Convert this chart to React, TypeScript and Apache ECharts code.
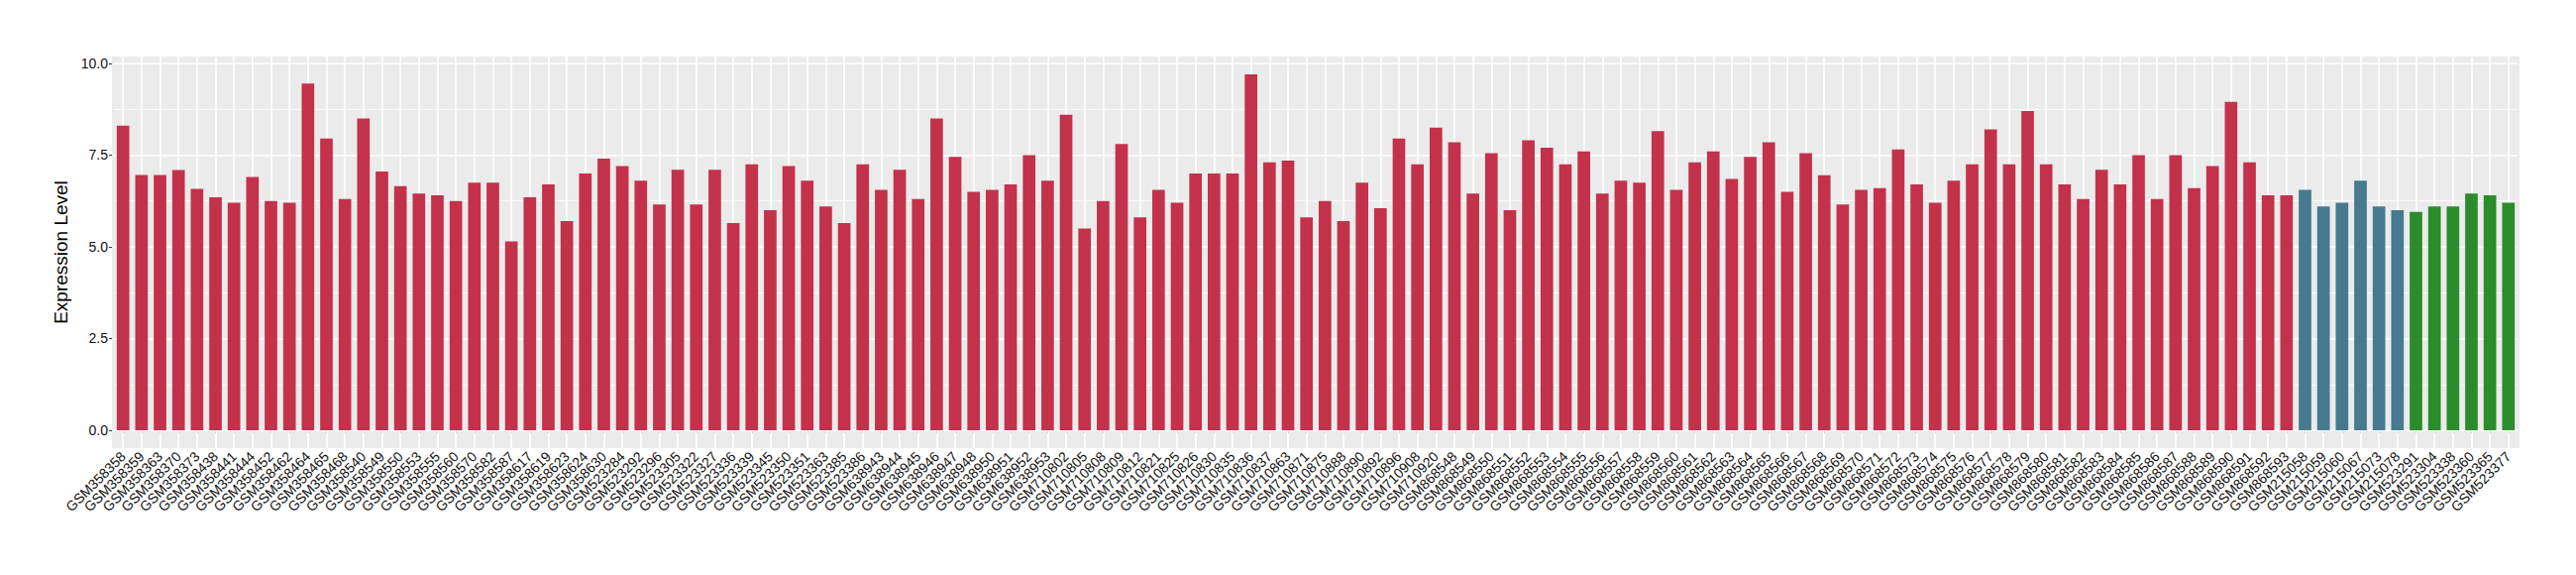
import React, { useEffect, useRef } from "react";
import * as echarts from "echarts";

// ---- Data ----
const groupASamples = [
  "GSM358358", "GSM358359", "GSM358363", "GSM358370", "GSM358373", "GSM358438", "GSM358441", "GSM358444", "GSM358452", "GSM358462",
  "GSM358464", "GSM358465", "GSM358468", "GSM358540", "GSM358549", "GSM358550", "GSM358553", "GSM358555", "GSM358560", "GSM358570",
  "GSM358582", "GSM358587", "GSM358617", "GSM358619", "GSM358623", "GSM358624", "GSM358630",
  "GSM523284", "GSM523292", "GSM523296", "GSM523305", "GSM523322", "GSM523327", "GSM523336", "GSM523339", "GSM523345", "GSM523350",
  "GSM523351", "GSM523363", "GSM523385", "GSM523386",
  "GSM638943", "GSM638944", "GSM638945", "GSM638946", "GSM638947", "GSM638948", "GSM638950", "GSM638951", "GSM638952", "GSM638953",
  "GSM710802", "GSM710805", "GSM710808", "GSM710809", "GSM710812", "GSM710821", "GSM710825", "GSM710826", "GSM710830", "GSM710835",
  "GSM710836", "GSM710837", "GSM710863", "GSM710871", "GSM710875", "GSM710888", "GSM710890", "GSM710892", "GSM710896", "GSM710908",
  "GSM710920",
  "GSM868548", "GSM868549", "GSM868550", "GSM868551", "GSM868552", "GSM868553", "GSM868554", "GSM868555", "GSM868556", "GSM868557",
  "GSM868558", "GSM868559", "GSM868560", "GSM868561", "GSM868562", "GSM868563", "GSM868564", "GSM868565", "GSM868566", "GSM868567",
  "GSM868568", "GSM868569", "GSM868570", "GSM868571", "GSM868572", "GSM868573", "GSM868574", "GSM868575", "GSM868576", "GSM868577",
  "GSM868578", "GSM868579", "GSM868580", "GSM868581", "GSM868582", "GSM868583", "GSM868584", "GSM868585", "GSM868586", "GSM868587",
  "GSM868588", "GSM868589", "GSM868590", "GSM868591", "GSM868592", "GSM868593",
];
const groupAValues = [
  8.3, 6.96, 6.96, 7.09, 6.58, 6.35, 6.2, 6.9, 6.25, 6.2,
  9.45, 7.95, 6.3, 8.5, 7.05, 6.65, 6.45, 6.4, 6.25, 6.75,
  6.75, 5.15, 6.35, 6.7, 5.7, 7.0, 7.4,
  7.2, 6.8, 6.15, 7.1, 6.15, 7.1, 5.65, 7.25, 6.0, 7.2,
  6.8, 6.1, 5.65, 7.25,
  6.55, 7.1, 6.3, 8.5, 7.45, 6.5, 6.55, 6.7, 7.5, 6.8,
  8.6, 5.5, 6.25, 7.8, 5.8, 6.55, 6.2, 7.0, 7.0, 7.0,
  9.7, 7.3, 7.35, 5.8, 6.25, 5.7, 6.75, 6.05, 7.95, 7.25,
  8.25,
  7.85, 6.45, 7.55, 6.0, 7.9, 7.7, 7.25, 7.6, 6.45, 6.8,
  6.75, 8.15, 6.55, 7.3, 7.6, 6.85, 7.45, 7.85, 6.5, 7.55,
  6.95, 6.15, 6.55, 6.6, 7.65, 6.7, 6.2, 6.8, 7.25, 8.2,
  7.25, 8.7, 7.25, 6.7, 6.3, 7.1, 6.7, 7.5, 6.3, 7.5,
  6.6, 7.2, 8.95, 7.3, 6.4, 6.4,
];
const groupBSamples = ["GSM215058", "GSM215059", "GSM215060", "GSM215067", "GSM215073", "GSM215078"];
const groupBValues = [6.55, 6.1, 6.2, 6.8, 6.1, 6.0];
const groupCSamples = ["GSM523291", "GSM523304", "GSM523338", "GSM523360", "GSM523365", "GSM523377"];
const groupCValues = [5.95, 6.1, 6.1, 6.45, 6.4, 6.2];

const yTicks = [0, 2.5, 5, 7.5, 10];
const yMinorTicks = [1.25, 3.75, 6.25, 8.75];

const COLORS = { A: "#C3324A", B: "#467A8E", C: "#2A8C2A" };

const FONT = "'Liberation Sans', Arial, Helvetica, sans-serif";

export default function App() {
  const ref = useRef<HTMLDivElement>(null);

  useEffect(() => {
    document.body.style.margin = "0";
    if (!ref.current) return;
    const chart = echarts.init(ref.current, undefined, { renderer: "svg" });

    const samples = [...groupASamples, ...groupBSamples, ...groupCSamples];
    const barData = [
      ...groupAValues.map((v) => ({ value: v, itemStyle: { color: COLORS.A } })),
      ...groupBValues.map((v) => ({ value: v, itemStyle: { color: COLORS.B } })),
      ...groupCValues.map((v) => ({ value: v, itemStyle: { color: COLORS.C } })),
    ];

    const panel = { left: 113, top: 57, right: 57, bottom: 128 };
    // category grid inset by 0.1 category (ggplot expands 0.6, echarts 0.5)
    const catW = (2600 - panel.left - panel.right) / (samples.length + 0.2);
    const inset = catW * 0.1;

    const major = { color: "#ffffff", width: 1.6, type: "solid" };
    const minor = { color: "#ffffff", width: 0.8, type: "solid" };
    const gridLineData = [
      ...samples.map((s) => ({ xAxis: s, lineStyle: major })),
      ...yTicks.map((t) => ({ yAxis: t, lineStyle: major })),
      ...yMinorTicks.map((t) => ({ yAxis: t, lineStyle: minor })),
    ];

    chart.setOption({
      animation: false,
      backgroundColor: "#ffffff",
      textStyle: { fontFamily: FONT },
      graphic: [
        {
          type: "rect",
          z: 0,
          silent: true,
          shape: {
            x: panel.left,
            y: panel.top,
            width: 2600 - panel.left - panel.right,
            height: 580 - panel.top - panel.bottom,
          },
          style: { fill: "#EBEBEB" },
        },
      ],
      grid: {
        left: panel.left + inset,
        right: panel.right + inset,
        top: panel.top,
        bottom: panel.bottom,
        containLabel: false,
      },
      xAxis: {
        type: "category",
        data: samples,
        boundaryGap: true,
        axisLine: { show: false },
        axisTick: { show: true, alignWithLabel: true, length: 3, lineStyle: { color: "#333333", width: 1 } },
        splitLine: { show: false },
        axisLabel: {
          interval: 0,
          rotate: 45,
          margin: 6,
          fontSize: 14,
          color: "#111111",
          fontFamily: FONT,
        },
      },
      yAxis: {
        type: "value",
        min: -0.485,
        max: 10.185,
        offset: inset,
        axisLine: { show: false },
        splitLine: { show: false },
        axisTick: {
          show: true,
          length: 3,
          customValues: yTicks,
          lineStyle: { color: "#333333", width: 1 },
        },
        axisLabel: {
          customValues: yTicks,
          formatter: (v: number) => v.toFixed(1),
          fontSize: 14,
          color: "#111111",
          margin: 4,
          fontFamily: FONT,
        },
        name: "Expression Level",
        nameLocation: "middle",
        nameGap: 38,
        nameTextStyle: { fontSize: 19, color: "#000000", fontFamily: FONT },
      },
      series: [
        {
          type: "line",
          data: [],
          z: 1,
          silent: true,
          markLine: {
            silent: true,
            z: 1,
            symbol: ["none", "none"],
            label: { show: false },
            animation: false,
            data: gridLineData,
          },
        },
        {
          type: "bar",
          z: 3,
          barWidth: "68%",
          data: barData,
        },
      ],
    });

    return () => chart.dispose();
  }, []);

  return <div ref={ref} style={{ width: 2600, height: 580 }} />;
}
